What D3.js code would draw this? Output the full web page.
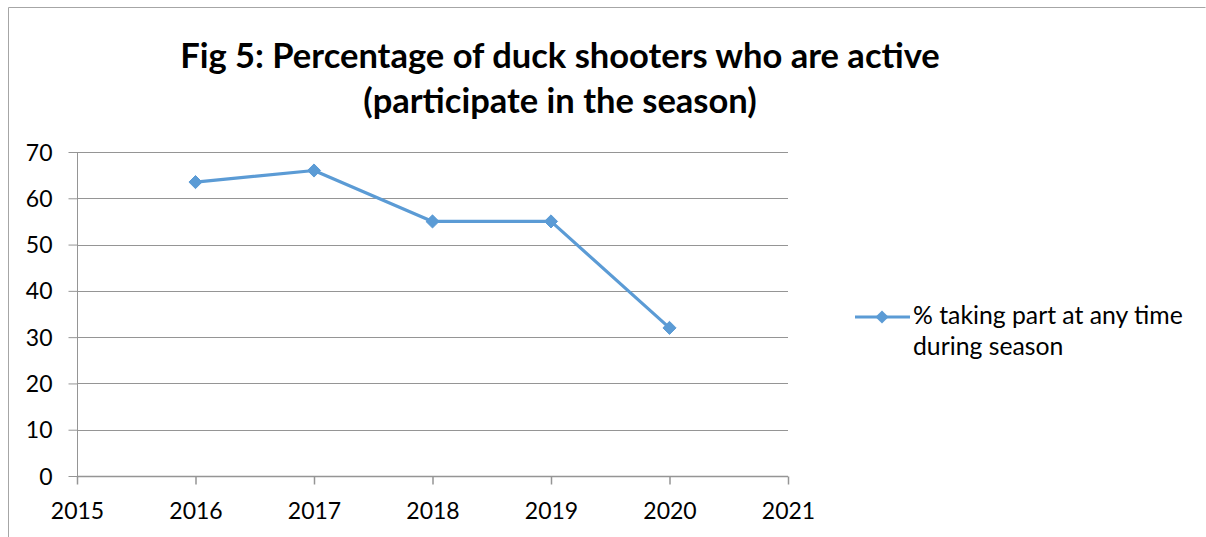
<!DOCTYPE html>
<html><head><meta charset="utf-8">
<script src="https://cdn.jsdelivr.net/npm/d3@7"></script>
<style>body{margin:0;background:#fff}svg{display:block}text{font-family:Lato,"Open Sans",sans-serif;fill:#000}</style>
</head><body>
<svg id="c" width="1206" height="537"></svg>
<script>
const years = [2016, 2017, 2018, 2019, 2020];
const values = [63.5, 66, 55, 55, 32];
const xTicks = [2015, 2016, 2017, 2018, 2019, 2020, 2021];
const yTicks = [0, 10, 20, 30, 40, 50, 60, 70];
const seriesName = ["% taking part at any time", "during season"];
const titleLines = ["Fig 5: Percentage of duck shooters who are active", "(participate in the season)"];

const svg = d3.select("#c");
const color = "#5B9BD5";
const L = 77, R = 788, T = 152, B = 476;
const x = d3.scaleLinear().domain([2015, 2021]).range([L, R]);
const y = d3.scaleLinear().domain([0, 70]).range([B, T]);

// outer border
svg.append("path").attr("d", "M8.5,537 V7.5 H1205.5").attr("fill", "none").attr("stroke", "#a6a6a6").attr("stroke-width", 1);

// gridlines
svg.append("g").selectAll("line").data(yTicks.filter(d => d > 0)).join("line")
  .attr("x1", L).attr("x2", R).attr("y1", d => Math.round(y(d)) + 0.5).attr("y2", d => Math.round(y(d)) + 0.5)
  .attr("stroke", "#959595").attr("stroke-width", 1);

// y axis
const yAxis = svg.append("g").attr("transform", `translate(${L + 0.5},0)`)
  .call(d3.axisLeft(y).tickValues(yTicks).tickSize(9).tickPadding(16).tickFormat(d3.format("d")));
yAxis.select(".domain").attr("stroke", "#959595").attr("d", `M0,${T} V${B}`);
yAxis.selectAll(".tick line").attr("stroke", "#959595");
yAxis.selectAll(".tick text").style("font-size", "23px").style("font-family", "Lato").attr("dy", "0.35em");

// x axis
const xAxis = svg.append("g").attr("transform", `translate(0,${B + 0.5})`)
  .call(d3.axisBottom(x).tickValues(xTicks).tickSize(8).tickPadding(18).tickFormat(d3.format("d")));
xAxis.select(".domain").attr("stroke", "#959595").attr("stroke-width", 1.5).attr("d", `M${L},0 H${R}`);
xAxis.selectAll(".tick line").attr("stroke", "#959595").attr("stroke-width", 1.5);
xAxis.selectAll(".tick text").style("font-size", "23px").style("font-family", "Lato");

// line
const data = years.map((yr, i) => ({ x: yr, y: values[i] }));
svg.append("path").datum(data)
  .attr("d", d3.line().x(d => x(d.x)).y(d => y(d.y)))
  .attr("fill", "none").attr("stroke", color).attr("stroke-width", 3.2).attr("stroke-linejoin", "round");

const diamond = d3.symbol().type(d3.symbolDiamond2).size(110);
svg.append("g").selectAll("path").data(data).join("path")
  .attr("transform", d => `translate(${x(d.x)},${y(d.y)})`)
  .attr("d", diamond).attr("fill", color).attr("stroke", color).attr("stroke-width", 1);

// title
const t1 = svg.append("text").attr("x", 560).attr("y", 68).attr("text-anchor", "middle")
  .style("font-weight", "bold").style("font-size", "31px").text(titleLines[0]);
const t2 = svg.append("text").attr("x", 560).attr("y", 113).attr("text-anchor", "middle")
  .style("font-weight", "bold").style("font-size", "31px").text(titleLines[1]);
const w1 = t1.node().getComputedTextLength();
const fs = 31 * 760 / w1;
t1.style("font-size", fs + "px"); t2.style("font-size", fs + "px");

// legend
const ly = 317;
svg.append("line").attr("x1", 855).attr("x2", 910).attr("y1", ly).attr("y2", ly)
  .attr("stroke", color).attr("stroke-width", 3.2);
svg.append("path").attr("transform", `translate(882,${ly})`).attr("d", diamond).attr("fill", color);
const lg1 = svg.append("text").attr("x", 913).attr("y", ly + 7).style("font-size", "22px").text(seriesName[0]);
const lg2 = svg.append("text").attr("x", 913).attr("y", ly + 38).style("font-size", "22px").text(seriesName[1]);
const lfs = 22 * 270 / lg1.node().getComputedTextLength();
lg1.style("font-size", lfs + "px"); lg2.style("font-size", lfs + "px");
</script>
</body></html>
